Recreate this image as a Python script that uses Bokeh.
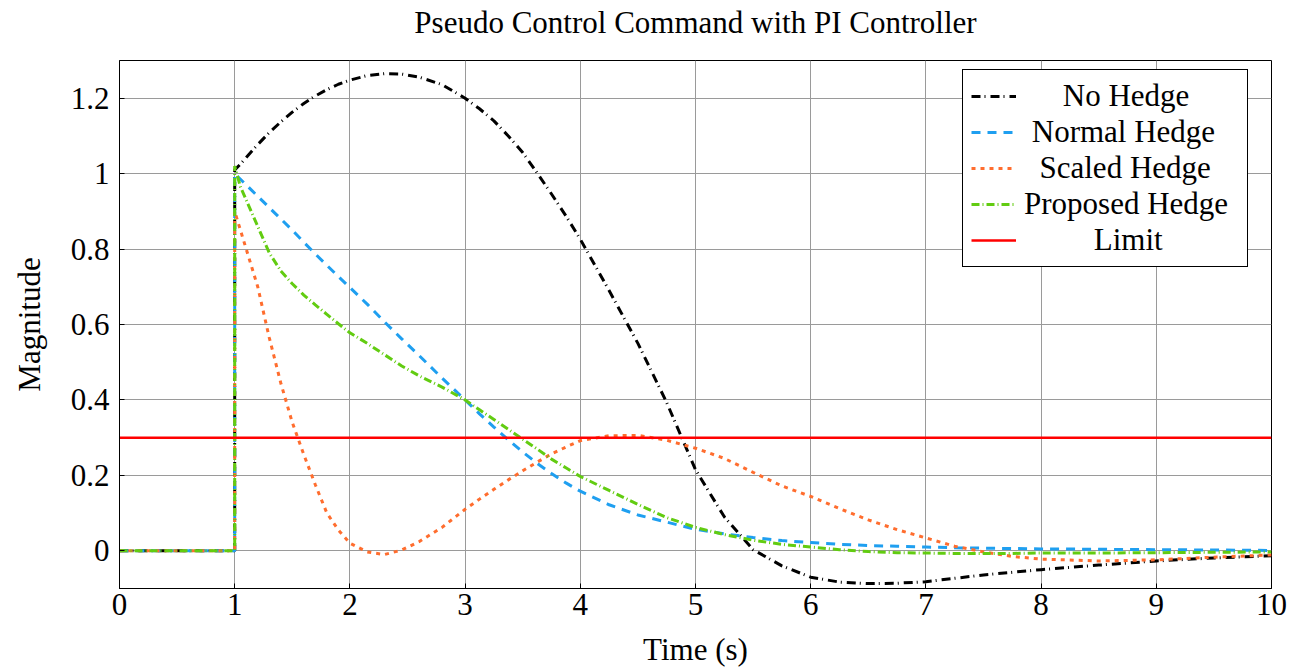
from bokeh.plotting import figure
from bokeh.models import Legend, LegendItem, FixedTicker, ColumnDataSource, Title
from bokeh.embed import file_html
from bokeh.resources import INLINE

# Sample times (s); the step at t = 1 s appears twice
time_s = [0, 1, 1, 1.05, 1.1, 1.2, 1.3, 1.4, 1.5, 1.6, 1.7, 1.8, 1.9, 2.0,
          2.15, 2.3, 2.45, 2.6, 2.8, 3.0, 3.125, 3.25, 3.375, 3.5, 3.625,
          3.75, 3.875, 4.0, 4.25, 4.5, 4.75, 5.0, 5.25, 5.5, 5.75, 6.0, 6.25,
          6.5, 6.75, 7.0, 7.25, 7.5, 7.75, 8.0, 8.5, 9.0, 9.5, 10.0]

no_hedge = [0, 0, 1.01, 1.025, 1.043, 1.077, 1.109, 1.137, 1.163, 1.186, 1.206,
            1.223, 1.237, 1.248, 1.26, 1.265, 1.264, 1.256, 1.236, 1.2, 1.172,
            1.14, 1.1, 1.056, 1.002, 0.946, 0.888, 0.826, 0.69, 0.55, 0.393,
            0.215, 0.09, 0.003, -0.04, -0.07, -0.083, -0.087, -0.086, -0.082,
            -0.073, -0.064, -0.057, -0.05, -0.038, -0.027, -0.019, -0.013]

normal_hedge = [0, 0, 1.0, 0.985, 0.97, 0.94, 0.91, 0.88, 0.85, 0.818, 0.787,
                0.757, 0.727, 0.698, 0.654, 0.607, 0.562, 0.518, 0.458, 0.4,
                0.363, 0.328, 0.294, 0.262, 0.232, 0.205, 0.18, 0.158, 0.122,
                0.095, 0.076, 0.057, 0.045, 0.035, 0.027, 0.022, 0.017, 0.014,
                0.012, 0.01, 0.008, 0.007, 0.006, 0.005, 0.004, 0.003, 0.002,
                0.001]

scaled_hedge = [0, 0, 0.9, 0.85, 0.8, 0.7, 0.565, 0.445, 0.34, 0.255, 0.175,
                0.1, 0.055, 0.02, -0.003, -0.01, 0.002, 0.024, 0.062, 0.11,
                0.137, 0.163, 0.188, 0.212, 0.235, 0.257, 0.275, 0.292, 0.305,
                0.306, 0.293, 0.272, 0.245, 0.208, 0.172, 0.144, 0.112, 0.082,
                0.056, 0.034, 0.012, -0.003, -0.015, -0.022, -0.027, -0.024,
                -0.017, -0.011]

proposed_hedge = [0, 0, 1.02, 0.965, 0.93, 0.86, 0.79, 0.742, 0.708, 0.678,
                  0.652, 0.627, 0.602, 0.578, 0.55, 0.52, 0.49, 0.464, 0.434,
                  0.4, 0.374, 0.348, 0.322, 0.296, 0.27, 0.243, 0.22, 0.197,
                  0.16, 0.123, 0.088, 0.062, 0.043, 0.028, 0.017, 0.01, 0.003,
                  -0.002, -0.005, -0.006, -0.007, -0.007, -0.007, -0.006,
                  -0.006, -0.005, -0.004, -0.003]

limit_time = [0, 10]
limit_value = [0.3, 0.3]

x_ticks = [0, 1, 2, 3, 4, 5, 6, 7, 8, 9, 10]
y_ticks = [0, 0.2, 0.4, 0.6, 0.8, 1.0, 1.2]
y_tick_labels = ["0", "0.2", "0.4", "0.6", "0.8", "1", "1.2"]

series_labels = ["No Hedge", "Normal Hedge", "Scaled Hedge", "Proposed Hedge", "Limit"]
chart_title = "Pseudo Control Command with PI Controller"

FONT = "Liberation Serif"
FS = "31px"

src = ColumnDataSource(dict(t=time_s, nh=no_hedge, normal=normal_hedge,
                            scaled=scaled_hedge, proposed=proposed_hedge))

p = figure(width=1300, height=669, x_range=(0, 10), y_range=(-0.1, 1.3),
           output_backend="svg", toolbar_location=None,
           min_border_left=119, min_border_right=29,
           min_border_top=60, min_border_bottom=80)

# A thin spacer panel keeps the title a little higher above the frame
spacer = Title(text="\u00a0", text_font_size="1px", standoff=18)
p.add_layout(spacer, "above")
title = Title(text=chart_title, align="center", vertical_align="bottom",
              text_font=FONT, text_font_size=FS, text_font_style="normal",
              text_color="black", standoff=0)
p.add_layout(title, "above")

p.outline_line_color = "black"
p.outline_line_width = 1
p.outline_line_alpha = 1

for ax in (p.xaxis[0], p.yaxis[0]):
    ax.major_label_text_font = FONT
    ax.major_label_text_font_size = FS
    ax.major_label_text_color = "black"
    ax.axis_label_text_font = FONT
    ax.axis_label_text_font_size = FS
    ax.axis_label_text_font_style = "normal"
    ax.axis_label_text_color = "black"
    ax.axis_line_color = "black"
    ax.major_tick_in = 5
    ax.major_tick_out = 0
    ax.minor_tick_in = 0
    ax.minor_tick_out = 0
    ax.major_tick_line_color = "black"

p.xaxis.ticker = FixedTicker(ticks=x_ticks)
p.yaxis.ticker = FixedTicker(ticks=y_ticks)
p.yaxis.major_label_overrides = {v: s for v, s in zip(y_ticks, y_tick_labels)}
p.xaxis.axis_label = "Time (s)"
p.yaxis.axis_label = "Magnitude"
p.xaxis.major_label_standoff = 5
p.yaxis.major_label_standoff = 10
p.xaxis.axis_label_standoff = 14
p.yaxis.axis_label_standoff = 21

p.xgrid.ticker = FixedTicker(ticks=x_ticks)
p.ygrid.ticker = FixedTicker(ticks=y_ticks)
for g in (p.xgrid[0], p.ygrid[0]):
    g.grid_line_color = "#9a9a9a"
    g.grid_line_width = 1
    g.grid_line_alpha = 1

r_nh = p.line("t", "nh", source=src, line_color="black", line_width=3,
              line_dash="9 4 1 5")
r_normal = p.line("t", "normal", source=src, line_color="#1f9ff0", line_width=3,
                  line_dash="9 7")
r_scaled = p.line("t", "scaled", source=src, line_color="#ff6d2e", line_width=3,
                  line_dash="4 5")
r_prop = p.line("t", "proposed", source=src, line_color="#62cc11", line_width=3,
                line_dash="8 3 1 3")
r_lim = p.line(limit_time, limit_value, line_color="#ff0000", line_width=2.5)

# Labels padded with no-break spaces so they sit centred in the legend column
pads = [5, 1, 2, 0, 9]
items = [LegendItem(label="\u00a0" * n + lab, renderers=[r])
         for n, lab, r in zip(pads, series_labels,
                              [r_nh, r_normal, r_scaled, r_prop, r_lim])]
legend = Legend(items=items, location=(843, 321))
legend.label_text_font = FONT
legend.label_text_font_size = FS
legend.label_text_color = "black"
legend.border_line_color = "black"
legend.border_line_width = 1
legend.border_line_alpha = 1
legend.background_fill_alpha = 1
legend.glyph_width = 45
legend.glyph_height = 20
legend.label_height = 36
legend.label_width = 215
legend.label_standoff = 8
legend.spacing = 0
legend.padding = 8
legend.margin = 0
p.add_layout(legend, "center")

open("out.html", "w").write(file_html(p, INLINE))
